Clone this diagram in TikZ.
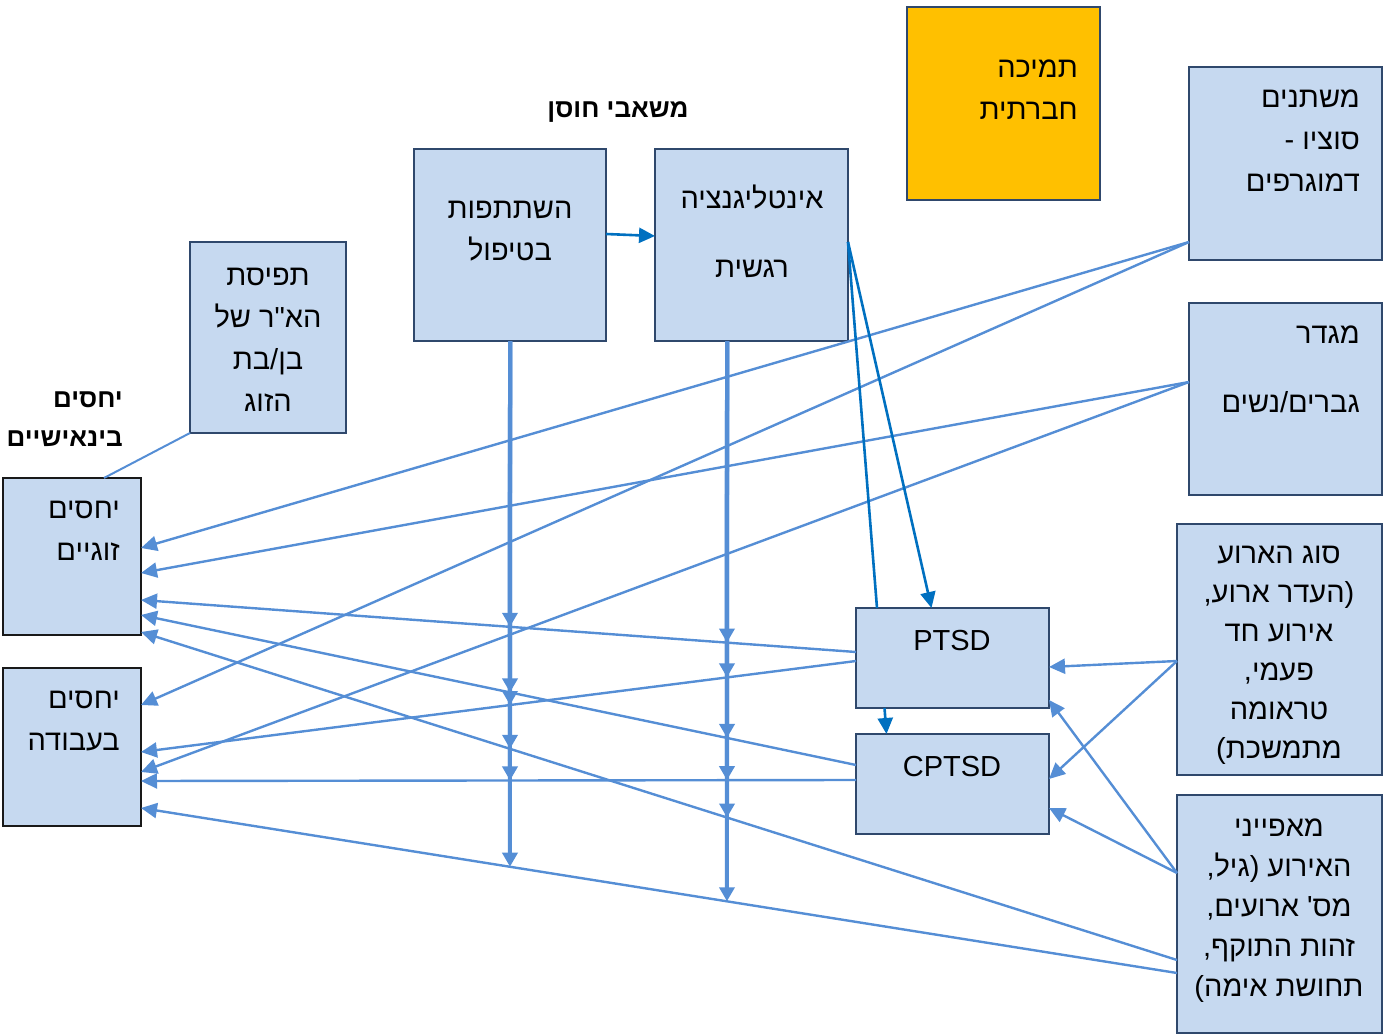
\documentclass[tikz,border=0pt]{standalone}
\usepackage{fontspec}
\setmainfont{Liberation Sans}
\newfontfamily\hebfont[Script=Hebrew,Ligatures=TeXOff]{Liberation Sans}
\TeXXeTstate=1
\usetikzlibrary{arrows.meta,calc}
\newcommand\heb[1]{\beginR #1\endR}
\definecolor{boxfill}{RGB}{198,217,240}
\definecolor{boxline}{RGB}{47,72,108}
\definecolor{lineblue}{RGB}{85,142,213}
\definecolor{darkblue}{RGB}{0,112,192}
\definecolor{amber}{RGB}{255,192,0}
\begin{document}
\begin{tikzpicture}[x=1pt,y=-1pt,
  box/.style={draw=boxline,fill=boxfill,line width=2.5pt,rectangle,
    inner sep=0pt,outer sep=0pt,anchor=north west},
  txt/.style={inner sep=0pt,font=\hebfont\fontsize{29}{42}\selectfont},
  lbl/.style={inner sep=0pt,font=\hebfont\bfseries\fontsize{26}{39}\selectfont},
  conn/.style={draw=lineblue,line width=2.4pt,-{Triangle[width=15pt,length=16pt]}},
  link/.style={draw=lineblue,line width=2pt},
  dconn/.style={draw=darkblue,line width=2.6pt,-{Triangle[width=15pt,length=16pt]}},
  dlink/.style={draw=darkblue,line width=2.6pt},
  modarrow/.style={draw=lineblue,line width=4pt,-{Triangle[width=15pt,length=14pt]}}]
\useasboundingbox (0,0) rectangle (1390,1035);

% ---- boxes ----
\node[box,fill=amber,minimum width=193pt,minimum height=193pt] (tam) at (907,7) {};
\node[box,minimum width=193pt,minimum height=193pt] (mish) at (1189,67) {};
\node[box,minimum width=193pt,minimum height=192pt] (migdar) at (1189,303) {};
\node[box,minimum width=205pt,minimum height=251pt] (sug) at (1177,524) {};
\node[box,minimum width=205pt,minimum height=238pt] (maaf) at (1177,795) {};
\node[box,minimum width=192pt,minimum height=192pt] (hish) at (414,149) {};
\node[box,minimum width=193pt,minimum height=192pt] (intel) at (655,149) {};
\node[box,minimum width=156pt,minimum height=191pt] (tfisat) at (190,242) {};
\node[box,draw=black!90,minimum width=138pt,minimum height=157pt] (zug) at (3,478) {};
\node[box,draw=black!90,minimum width=138pt,minimum height=158pt] (avoda) at (3,668) {};
\node[box,minimum width=193pt,minimum height=100pt] (ptsd) at (856,608) {};
\node[box,minimum width=193pt,minimum height=100pt] (cptsd) at (856,734) {};

% ---- texts ----
\node[txt,anchor=east,align=right] (tamT) at (1078,90) {\heb{תמיכה}\\\heb{חברתית}};
\node[txt,anchor=east,align=right] (mishT) at (1360,141) {\heb{משתנים}\\\heb{סוציו -}\\\heb{דמוגרפים}};
\node[txt,anchor=east,align=right] (migdarT) at (1360,369) {\heb{מגדר}\\[27pt]\heb{גברים/נשים}};
\node[txt,align=center,font=\hebfont\fontsize{29}{39}\selectfont] (sugT) at (1279,655)
  {\heb{סוג הארוע}\\\heb{(העדר ארוע,}\\\heb{אירוע חד}\\\heb{פעמי,}\\\heb{טראומה}\\\heb{מתמשכת)}};
\node[txt,align=center,font=\hebfont\fontsize{29}{40}\selectfont] (maafT) at (1279,910.5)
  {\heb{מאפייני}\\\heb{האירוע (גיל,}\\\heb{מס' ארועים,}\\\heb{זהות התוקף,}\\\heb{תחושת אימה)}};
\node[txt,align=center] (hishT) at (510,231) {\heb{השתתפות}\\\heb{בטיפול}};
\node[txt,align=center] (intelT) at (752,231) {\heb{אינטליגנציה}\\[27pt]\heb{רגשית}};
\node[txt,align=center] (tfisatT) at (268,339.5) {\heb{תפיסת}\\\heb{הא"ר של}\\\heb{בן/בת}\\\heb{הזוג}};
\node[txt,anchor=east,align=right] (zugT) at (120,531) {\heb{יחסים}\\\heb{זוגיים}};
\node[txt,anchor=east,align=right] (avodaT) at (120,721) {\heb{יחסים}\\\heb{בעבודה}};
\node[txt] (ptsdT) at (952,641) {PTSD};
\node[txt] (cptsdT) at (952,767) {CPTSD};
\node[lbl] (resLbl) at (618,112) {\heb{משאבי חוסן}};
\node[lbl,anchor=east,align=right] (interLbl) at (123,419.5) {\heb{יחסים}\\\heb{בינאישיים}};

% ---- connector end points ----
\coordinate (mishO) at ([yshift=18pt]mish.south west);
\coordinate (migO) at ([yshift=17pt]migdar.west);
\coordinate (sugO) at ([yshift=-11.5pt]sug.west);
\coordinate (maafP) at ([yshift=41pt]maaf.west);
\coordinate (maafZ) at ([yshift=-46pt]maaf.west);
\coordinate (maafA) at ([yshift=-59pt]maaf.west);
\coordinate (ptsdZ) at ([yshift=6pt]ptsd.west);
\coordinate (ptsdA) at ([yshift=-3pt]ptsd.west);
\coordinate (ptsdS) at ([yshift=-9pt]ptsd.east);
\coordinate (ptsdM) at ([yshift=-42pt]ptsd.east);
\coordinate (cptsdZ) at ([yshift=19pt]cptsd.west);
\coordinate (cptsdA) at ([yshift=4pt]cptsd.west);
\coordinate (cptsdS) at ([yshift=5pt]cptsd.east);
\coordinate (cptsdM) at ([yshift=-24pt]cptsd.east);
\coordinate (zugMi) at ([yshift=8.5pt]zug.east);
\coordinate (zugMg) at ([yshift=-16.5pt]zug.east);
\coordinate (zugP) at ([yshift=-43.5pt]zug.east);
\coordinate (zugC) at ([yshift=-58.5pt]zug.east);
\coordinate (zugMa) at ([yshift=-75.5pt]zug.east);
\coordinate (avMi) at ([yshift=42pt]avoda.east);
\coordinate (avP) at ([yshift=-5pt]avoda.east);
\coordinate (avMg) at ([yshift=-25pt]avoda.east);
\coordinate (avC) at ([yshift=-34pt]avoda.east);
\coordinate (avMa) at ([yshift=-61pt]avoda.east);

% ---- links to the two relationship boxes ----
\draw[conn] (mishO) -- (zugMi);
\draw[conn] (mishO) -- (avMi);
\draw[conn] (migO) -- (zugMg);
\draw[conn] (migO) -- (avMg);
\draw[conn] (ptsdZ) -- (zugP);
\draw[conn] (ptsdA) -- (avP);
\draw[conn] (cptsdZ) -- (zugC);
\draw[conn] (cptsdA) -- (avC);
\draw[conn] (maafZ) -- (zugMa);
\draw[conn] (maafA) -- (avMa);

% ---- event links to PTSD / CPTSD ----
\draw[conn] (sugO) -- (ptsdS);
\draw[conn] (sugO) -- (cptsdS);
\draw[conn] (maafP) -- (ptsdM);
\draw[conn] (maafP) -- (cptsdM);

\draw[link] (tfisat.south west) -- ([xshift=32pt]zug.north);

% ---- resilience links ----
\draw[dconn] ([yshift=11pt]hish.east) -- ([yshift=9pt]intel.west);
\draw[dconn] ([yshift=3pt]intel.east) -- ([xshift=-21pt]ptsd.north);
\draw[dlink] ([yshift=3pt]intel.east) -- ([xshift=-75.5pt]ptsd.north);
\draw[dconn] ([xshift=-68pt]ptsd.south) -- ([xshift=-66pt]cptsd.north);

% ---- moderating arrows ----
\coordinate (hTop) at (hish.south);
\coordinate (hBot) at ([yshift=-700pt]hish.south);
\coordinate (iTop) at ([xshift=-24.5pt]intel.south);
\coordinate (iBot) at ([xshift=-24.5pt,yshift=-700pt]intel.south);
\foreach \a/\b in {ptsdZ/zugP,ptsdA/avP,cptsdZ/zugC,cptsdA/avC,maafZ/zugMa,maafA/avMa}{
  \draw[modarrow] (hTop) -- (intersection of hTop--hBot and \a--\b);
  \draw[modarrow] (iTop) -- (intersection of iTop--iBot and \a--\b);
}
\end{tikzpicture}
\end{document}
